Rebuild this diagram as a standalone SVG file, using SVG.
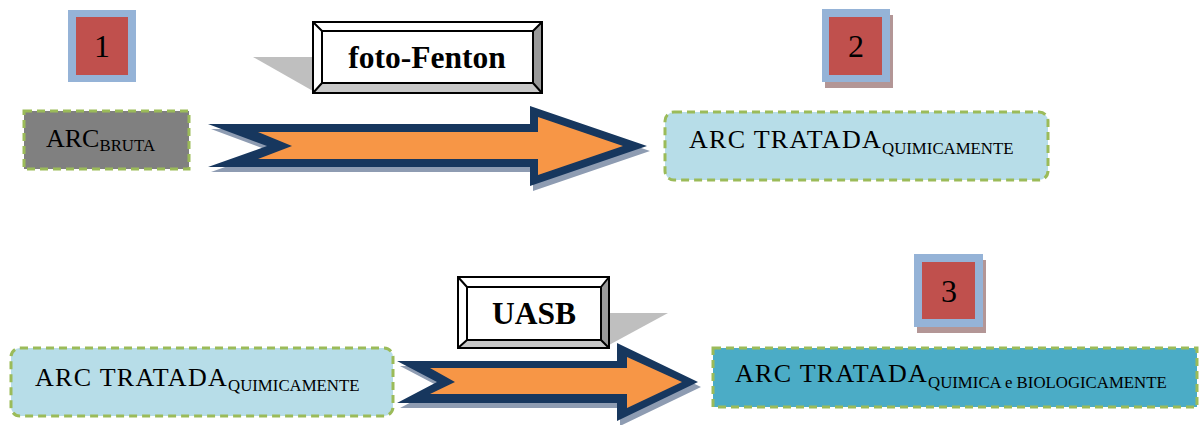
<svg xmlns="http://www.w3.org/2000/svg" width="1200" height="425" viewBox="0 0 1200 425">
  <style>
    .lbl { font-family: "Liberation Serif", "Times New Roman", serif; fill: #000; }
    .main { font-size: 26px; }
    .wide { letter-spacing: 1.3px; }
    .sub { font-size: 16.8px; letter-spacing: 0; }
    .num { font-family: "Liberation Serif", "Times New Roman", serif; font-size: 32px; text-anchor: middle; }
    .step { font-family: "Liberation Serif", "Times New Roman", serif; font-size: 31.5px; font-weight: bold; text-anchor: middle; }
    .box { stroke: #9bbb59; stroke-width: 3; stroke-dasharray: 8 5; }
    .badge-out { fill: #95b3d7; }
    .badge-in { fill: #c0504d; }
    .badge-sh { fill: #b39696; }
    .arr-sh { fill: #8e9cb2; }
    .arr-out { fill: #17375e; }
    .arr-in { fill: #f79646; }
    .bevel-line { fill: none; stroke: #000; stroke-width: 2; }
    .plate-sh { fill: #bfbfbf; }
  </style>

  <!-- connectors: block arrows with labelled bevel plates -->
  <g id="connectors">
    <g id="arrow-foto-fenton">
      <polygon class="plate-sh" points="253,57 313,57 313,91"/>
      <polygon class="arr-sh" transform="translate(3,5)" points="208,124 530,124 530,106 647,146 530,186 530,167 208,167 267,146"/>
      <polygon class="arr-out" points="208,124 530,124 530,106 647,146 530,186 530,167 208,167 267,146"/>
      <polygon class="arr-in" points="258,132 538,132 538,117 623,146 538,175 538,159 258,159 292,146"/>
      <!-- bevel plate -->
      <rect x="313" y="22" width="229" height="71" fill="#fff"/>
      <polygon points="533,31 542,22 542,93 533,83" fill="#999"/>
      <polygon points="322,83 533,83 542,93 313,93" fill="#c8c8c8"/>
      <rect class="bevel-line" x="313" y="22" width="229" height="71"/>
      <rect class="bevel-line" x="322" y="31" width="211" height="52"/>
      <path class="bevel-line" d="M313,22 L322,31 M542,22 L533,31 M313,93 L322,83 M542,93 L533,83"/>
      <text class="step" x="427" y="68">foto-Fenton</text>
    </g>
    <g id="arrow-uasb">
      <polygon class="plate-sh" points="609,313 668,313 609,345"/>
      <polygon class="arr-sh" transform="translate(3,5)" points="397,361 617,361 617,343 698,382 617,421 617,403 397,403 437,382"/>
      <polygon class="arr-out" points="397,361 617,361 617,343 698,382 617,421 617,403 397,403 437,382"/>
      <polygon class="arr-in" points="430,368 627,368 627,357 682,382 627,408 627,394 430,394 455,382"/>
      <!-- bevel plate -->
      <rect x="458" y="277" width="151" height="71" fill="#fff"/>
      <polygon points="601,287 609,277 609,348 601,340" fill="#999"/>
      <polygon points="467,340 601,340 609,348 458,348" fill="#c8c8c8"/>
      <rect class="bevel-line" x="458" y="277" width="151" height="71"/>
      <rect class="bevel-line" x="467" y="287" width="134" height="53"/>
      <path class="bevel-line" d="M458,277 L467,287 M609,277 L601,287 M458,348 L467,340 M609,348 L601,340"/>
      <text class="step" x="534" y="324">UASB</text>
    </g>
  </g>

  <!-- step badges -->
  <g id="badge-1">
    <rect class="badge-out" x="68" y="10" width="68" height="72"/>
    <rect class="badge-in" x="76" y="17" width="52" height="58"/>
    <text class="num" x="102" y="57">1</text>
  </g>
  <g id="badge-2">
    <rect class="badge-sh" x="825" y="15" width="68" height="73"/>
    <rect class="badge-out" x="822" y="9" width="68" height="73"/>
    <rect class="badge-in" x="829" y="17" width="53" height="58"/>
    <text class="num" x="856" y="57">2</text>
  </g>
  <g id="badge-3">
    <rect class="badge-sh" x="917" y="260" width="69" height="73"/>
    <rect class="badge-out" x="914" y="254" width="69" height="73"/>
    <rect class="badge-in" x="922" y="262" width="53" height="57"/>
    <text class="num" x="949" y="302">3</text>
  </g>

  <!-- effluent states -->
  <g id="arc-bruta">
    <rect class="box" x="24" y="111" width="165" height="58" fill="#808080"/>
    <text class="lbl main" x="46" y="147">ARC<tspan class="sub" font-size="17.5" dy="4">BRUTA</tspan></text>
  </g>
  <g id="arc-quimica">
    <rect class="box" x="665" y="112" width="383" height="68" rx="9" fill="#b7dde8"/>
    <text class="lbl main" x="689" y="148"><tspan class="wide">ARC TRATADA</tspan><tspan class="sub" dy="6">QUIMICAMENTE</tspan></text>
  </g>
  <g id="arc-quimica-uasb-in">
    <rect class="box" x="11" y="348" width="382" height="68" rx="9" fill="#b7dde8"/>
    <text class="lbl main" x="35" y="386"><tspan class="wide">ARC TRATADA</tspan><tspan class="sub" dy="5">QUIMICAMENTE</tspan></text>
  </g>
  <g id="arc-quimica-biologica">
    <rect class="box" x="713" y="348" width="484" height="59" fill="#4bacc6"/>
    <text class="lbl main" x="735" y="382"><tspan class="wide">ARC TRATADA</tspan><tspan class="sub" dy="6">QUIMICA e BIOLOGICAMENTE</tspan></text>
  </g>
</svg>
